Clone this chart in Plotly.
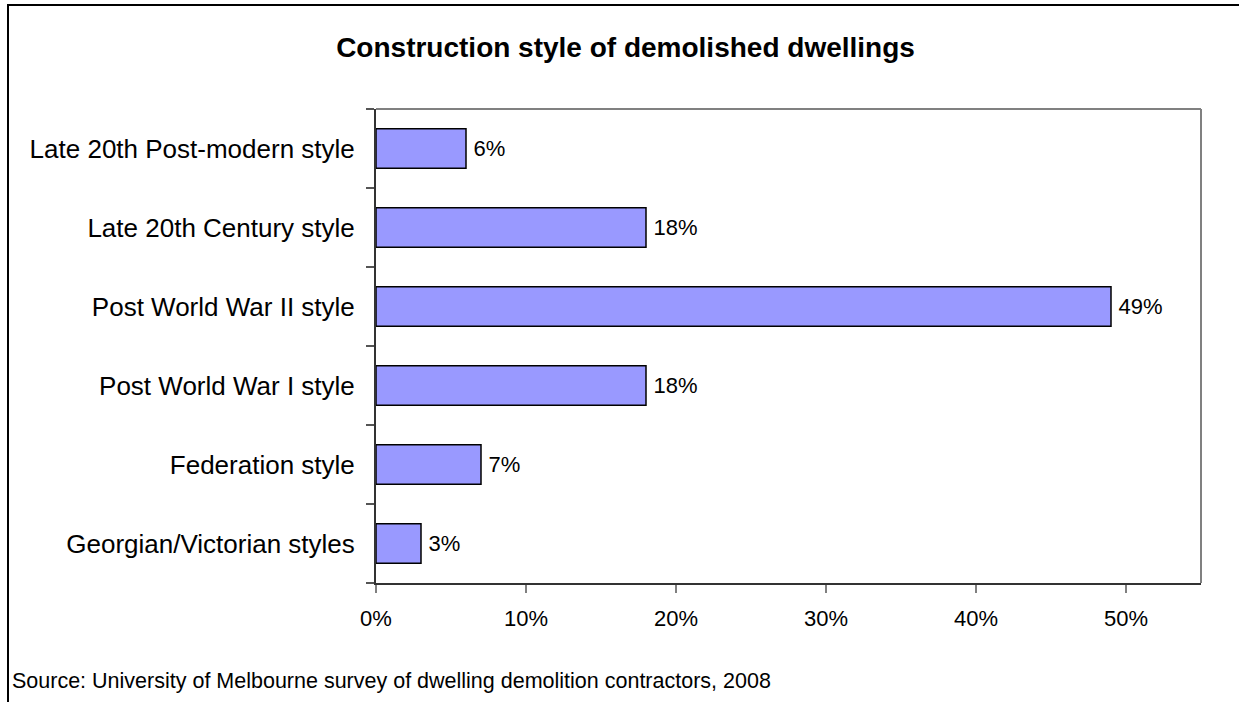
import plotly.graph_objects as go

categories = [
    "Georgian/Victorian styles",
    "Federation style",
    "Post World War I style",
    "Post World War II style",
    "Late 20th Century style",
    "Late 20th Post-modern style",
]
values = [3, 7, 18, 49, 18, 6]
tick_vals = [0, 10, 20, 30, 40, 50]
tick_text = ["0%", "10%", "20%", "30%", "40%", "50%"]
title_text = "Construction style of demolished dwellings"
source_text = "Source: University of Melbourne survey of dwelling demolition contractors, 2008"

W, H = 1239, 702
ML, MR, MT, MB = 376, 38, 109, 119
PW = W - ML - MR
PH = H - MT - MB


def px_x(p):
    return (p - ML) / PW


def px_y(p):
    return (H - MB - p) / PH


FONT = "Liberation Sans, Arial, sans-serif"

fig = go.Figure(
    go.Bar(
        x=values,
        y=categories,
        orientation="h",
        marker=dict(color="#9999FF", line=dict(color="#000000", width=1.5)),
        text=[f"\u2009{v}%" for v in values],
        textposition="outside",
        textfont=dict(family=FONT, size=22, color="#000000"),
        cliponaxis=False,
        hoverinfo="skip",
    )
)

fig.update_layout(
    width=W,
    height=H,
    margin=dict(l=ML, r=MR, t=MT, b=MB, pad=0),
    paper_bgcolor="white",
    plot_bgcolor="white",
    bargap=0.5,
    showlegend=False,
    font=dict(family=FONT, color="#000000"),
    title=dict(
        text="<b>" + title_text + "</b>",
        x=625.5 / W,
        xanchor="center",
        y=1 - 47 / H,
        yanchor="middle",
        font=dict(family=FONT, size=28, color="#000000"),
    ),
)

fig.update_xaxes(
    range=[0, 55],
    tickvals=tick_vals,
    ticktext=tick_text,
    ticks="outside",
    ticklen=8,
    tickwidth=1.5,
    tickcolor="#808080",
    showgrid=False,
    zeroline=False,
    showline=True,
    linecolor="#333333",
    linewidth=2,
    tickfont=dict(family=FONT, size=22, color="#000000"),
    ticklabelstandoff=7,
    fixedrange=True,
)

fig.update_yaxes(
    type="category",
    categoryorder="array",
    categoryarray=categories,
    ticks="outside",
    tickson="boundaries",
    ticklen=8,
    tickwidth=1.5,
    tickcolor="#555555",
    showgrid=False,
    zeroline=False,
    showline=True,
    linecolor="#333333",
    linewidth=2,
    tickfont=dict(family=FONT, size=26, color="#000000"),
    ticklabelstandoff=14,
    fixedrange=True,
)

# grey plot-area frame (top & right)
fig.add_shape(type="line", xref="paper", yref="paper", x0=0, x1=1, y0=1, y1=1,
              line=dict(color="#808080", width=2))
fig.add_shape(type="line", xref="paper", yref="paper", x0=1, x1=1, y0=0, y1=1,
              line=dict(color="#808080", width=2))

# outer chart border (cropped at right and bottom)
fig.add_shape(type="rect", xref="paper", yref="paper",
              x0=px_x(8), x1=px_x(W + 20), y0=px_y(H + 20), y1=px_y(5),
              line=dict(color="#000000", width=2), fillcolor="rgba(0,0,0,0)",
              layer="below")

fig.add_annotation(
    text=source_text,
    xref="paper", yref="paper",
    x=px_x(10), y=px_y(681),
    xanchor="left", yanchor="middle",
    showarrow=False,
    font=dict(family=FONT, size=21.5, color="#000000"),
)

fig.write_html(
    "out.html",
    config={"displayModeBar": False},
    post_script="document.body.style.margin='0';",
)
